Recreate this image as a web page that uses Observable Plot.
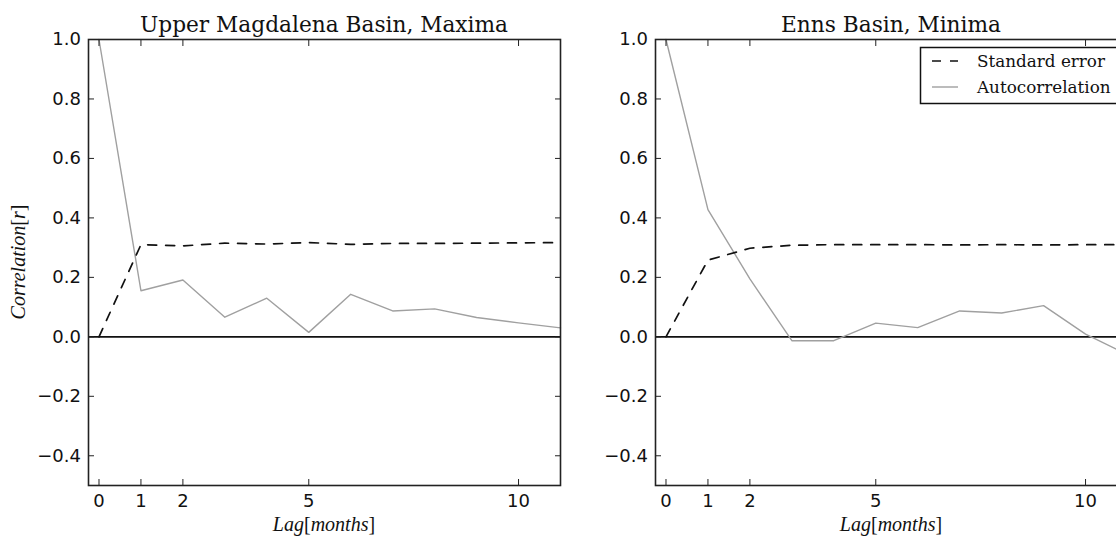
<!DOCTYPE html>
<html>
<head>
<meta charset="utf-8">
<script src="https://cdn.jsdelivr.net/npm/d3@7"></script>
<script src="https://cdn.jsdelivr.net/npm/@observablehq/plot@0.6"></script>
<style>
html, body { margin: 0; padding: 0; background: #fff; overflow: hidden; }
#wrap { position: relative; width: 1116px; height: 536px; overflow: hidden; background: #fff; }
.panel { position: absolute; top: 0; width: 600px; height: 536px; }
#overlay { position: absolute; left: 0; top: 0; pointer-events: none; }
</style>
</head>
<body>
<div id="wrap">
  <div class="panel" id="p1" style="left:0px"></div>
  <div class="panel" id="p2" style="left:567px"></div>
  <svg id="overlay" width="1116" height="536"></svg>
</div>
<script>
// ---- data ----
const lags = [0, 1, 2, 3, 4, 5, 6, 7, 8, 9, 10, 11];
const magdalenaAutocorr = [1.0, 0.155, 0.191, 0.066, 0.130, 0.015, 0.143, 0.087, 0.094, 0.065, 0.047, 0.030];
const magdalenaStdErr   = [0.0, 0.310, 0.306, 0.315, 0.312, 0.317, 0.311, 0.314, 0.314, 0.315, 0.316, 0.317];
const ennsAutocorr = [1.0, 0.428, 0.195, -0.013, -0.013, 0.046, 0.031, 0.087, 0.080, 0.105, 0.009, -0.060];
const ennsStdErr   = [0.0, 0.258, 0.298, 0.308, 0.310, 0.310, 0.310, 0.309, 0.310, 0.309, 0.310, 0.310];
const xTicks = [0, 1, 2, 5, 10];
const yTicks = [-0.4, -0.2, 0.0, 0.2, 0.4, 0.6, 0.8, 1.0];
const titles = ["Upper Magdalena Basin, Maxima", "Enns Basin, Minima"];
const seriesNames = ["Standard error", "Autocorrelation"];

const DASH = "9,9";
const GREY = "#a0a0a0";

function panel(ac, se) {
  const rows = lags.map((l, i) => ({lag: l, ac: ac[i], se: se[i]}));
  return Plot.plot({
    width: 600, height: 536,
    marginLeft: 88, marginRight: 40, marginTop: 39, marginBottom: 51,
    x: {domain: [-0.25, 11]},
    y: {domain: [-0.5, 1.0]},
    style: {fontFamily: "DejaVu Sans", fontSize: "18px", color: "#000", background: "transparent", overflow: "visible"},
    marks: [
      Plot.ruleY([0], {stroke: "#111", strokeWidth: 1.6}),
      Plot.line(rows, {x: "lag", y: "ac", stroke: GREY, strokeWidth: 1.4}),
      Plot.line(rows, {x: "lag", y: "se", stroke: "#111", strokeWidth: 1.7, strokeDasharray: DASH}),
      Plot.frame({stroke: "#222", strokeWidth: 1.6}),
      Plot.axisX({ticks: xTicks, anchor: "bottom", tickSize: -6, tickFormat: () => "", label: null, stroke: "#222"}),
      Plot.axisX({ticks: xTicks, anchor: "top", tickSize: -6, tickFormat: () => "", label: null, stroke: "#222"}),
      Plot.axisY({ticks: yTicks, anchor: "left", tickSize: -6, tickFormat: () => "", label: null, stroke: "#222"}),
      Plot.axisY({ticks: yTicks, anchor: "right", tickSize: -6, tickFormat: () => "", label: null, stroke: "#222"}),
      Plot.axisX({ticks: xTicks, anchor: "bottom", tickSize: 0, tickPadding: 9.2, label: null, fontSize: 18, fill: "#111"}),
      Plot.axisY({ticks: yTicks, anchor: "left", tickSize: 0, tickPadding: 7.5, tickFormat: d3.format(".1f"), label: null, fontSize: 18, fill: "#111"})
    ]
  });
}

document.getElementById("p1").appendChild(panel(magdalenaAutocorr, magdalenaStdErr));
document.getElementById("p2").appendChild(panel(ennsAutocorr, ennsStdErr));

// ---- overlay texts (titles, axis labels, legend) ----
const ov = d3.select("#overlay");
const centers = [324, 891];
titles.forEach((t, i) => {
  ov.append("text").attr("x", centers[i]).attr("y", 32).attr("text-anchor", "middle")
    .attr("font-family", "DejaVu Serif").attr("font-size", 21.7).attr("fill", "#111").text(t);
  const xl = ov.append("text").attr("x", centers[i]).attr("y", 531).attr("text-anchor", "middle")
    .attr("font-family", "Liberation Serif").attr("font-size", 20).attr("fill", "#111");
  xl.append("tspan").attr("font-style", "italic").text("Lag");
  xl.append("tspan").text("[");
  xl.append("tspan").attr("font-style", "italic").text("months");
  xl.append("tspan").text("]");
});
const yl = ov.append("text").attr("transform", "translate(25,262) rotate(-90)").attr("text-anchor", "middle")
  .attr("font-family", "Liberation Serif").attr("font-size", 20).attr("fill", "#111");
yl.append("tspan").attr("font-style", "italic").text("Correlation");
yl.append("tspan").text("[");
yl.append("tspan").attr("font-style", "italic").text("r");
yl.append("tspan").text("]");

// legend
const lg = ov.append("g");
lg.append("rect").attr("x", 920.5).attr("y", 47.5).attr("width", 210).attr("height", 56)
  .attr("fill", "#fff").attr("stroke", "#111").attr("stroke-width", 1.5);
lg.append("line").attr("x1", 932).attr("x2", 958).attr("y1", 61).attr("y2", 61)
  .attr("stroke", "#111").attr("stroke-width", 1.7).attr("stroke-dasharray", DASH);
lg.append("line").attr("x1", 932).attr("x2", 958).attr("y1", 87).attr("y2", 87)
  .attr("stroke", GREY).attr("stroke-width", 1.4);
seriesNames.forEach((s, i) => {
  lg.append("text").attr("x", 977).attr("y", 67 + i * 25.5).attr("font-family", "DejaVu Serif")
    .attr("font-size", 16.8).attr("fill", "#111").text(s);
});
</script>
</body>
</html>
